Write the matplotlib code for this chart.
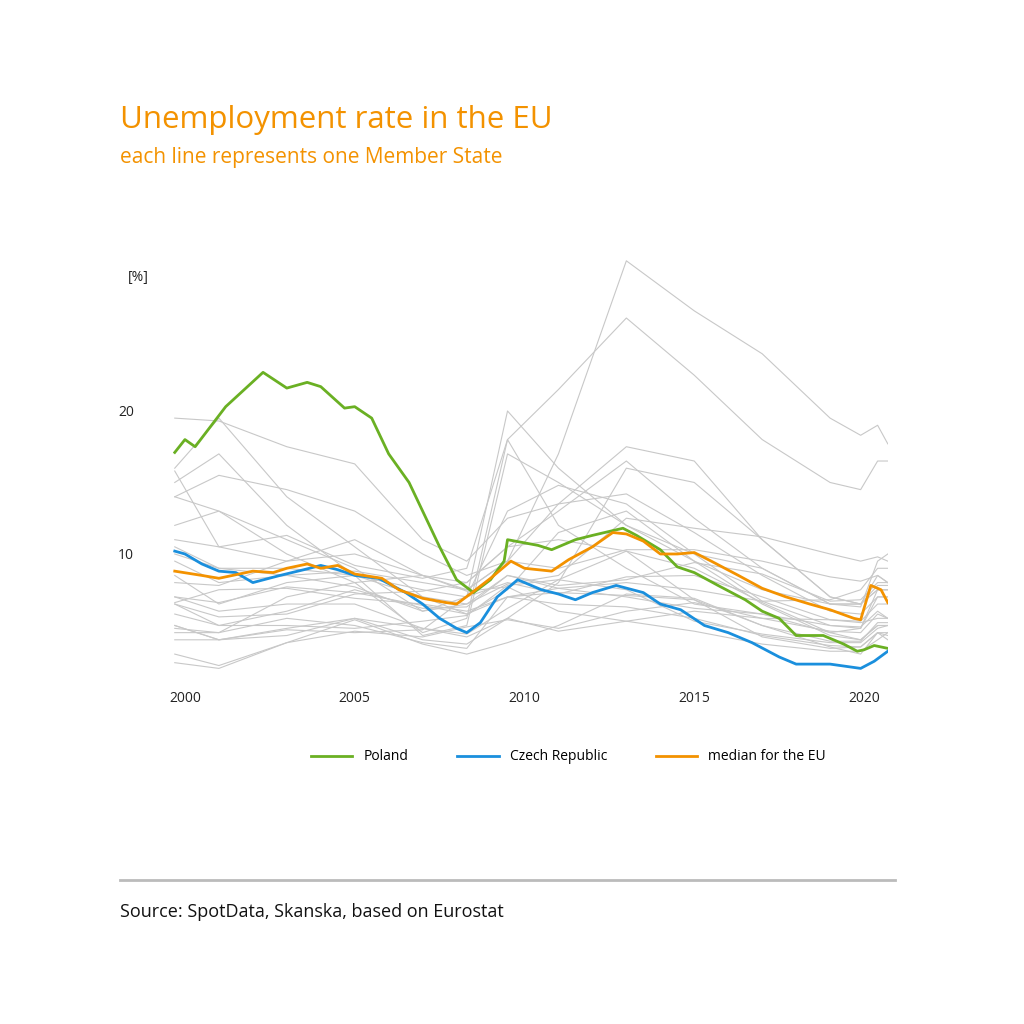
import matplotlib.pyplot as plt

plt.rcParams['font.family'] = ['Open Sans', 'DejaVu Sans']

ORANGE = '#f39200'
GREEN = '#6ab023'
BLUE = '#1a8fdd'
GREY = '#c8c8c8'

# other member states, sampled at shared years
grey_years = [1999.7, 2001, 2003, 2005, 2007, 2008.3, 2009.5, 2011, 2013, 2015, 2017, 2019, 2019.9, 2020.4, 2020.7]
grey_values = [
    [11, 10.5, 9.5, 10, 8.5, 7.5, 9.5, 17, 30.5, 27, 24, 19.5, 18.3, 19, 17.7],
    [15.8, 10.5, 11.3, 9.2, 8.3, 9, 18, 21.5, 26.5, 22.5, 18, 15, 14.5, 16.5, 16.5],
    [19.5, 19.3, 17.5, 16.3, 11, 9.5, 12.5, 13.5, 14.2, 11.5, 8.5, 6, 5.8, 7, 7],
    [14, 13, 11, 9, 6, 7, 20, 16, 12, 10, 9, 6.5, 6.5, 8.5, 8],
    [15, 17, 12, 8.5, 4.3, 5, 17, 15, 12, 9.5, 7.5, 6.5, 6.3, 9.5, 10],
    [12, 13, 10, 8, 4.5, 5.5, 18, 12, 9, 6.5, 5.8, 4.5, 4.8, 7.5, 7.5],
    [16, 19.5, 14, 10.5, 7, 5.8, 7.5, 11.5, 13, 9.5, 6.5, 4.3, 4, 5, 5],
    [14, 15.5, 14.5, 13, 10, 8.5, 9.5, 13.5, 17.5, 16.5, 11, 7, 6.5, 7.5, 7.5],
    [10.5, 9, 8.5, 7.7, 6, 6.5, 7.9, 8.5, 12.5, 11.8, 11.2, 10, 9.5, 9.8, 9.5],
    [9.5, 8, 8.5, 8.8, 8, 7.5, 9.5, 9, 10.3, 10.3, 9.5, 8.4, 8.1, 8.5, 8],
    [10, 9, 9, 8.5, 7, 6.5, 8.5, 7.8, 8.2, 9.4, 8.6, 6.7, 6.8, 8, 8],
    [4.5, 4.5, 7, 8, 8.5, 8, 10.5, 13, 16.5, 12.5, 9, 6.5, 6.5, 7.5, 7.5],
    [5, 4, 4.7, 4.5, 4.7, 7, 13, 14.8, 13.5, 10, 6.7, 5, 4.8, 7, 7],
    [5, 4, 4.3, 5.5, 4, 3.7, 5.5, 8, 16, 15, 11, 7, 6.5, 7.8, 7.8],
    [6.5, 5, 6, 7.5, 6.2, 6.3, 8.5, 7.6, 8, 7.5, 6.7, 6.8, 7.5, 9, 9],
    [8, 7.8, 9.5, 11, 8.5, 7.4, 7.7, 6, 5.3, 4.6, 3.7, 3.2, 3.2, 4, 4.5],
    [3, 2.2, 3.8, 5.4, 3.7, 3, 3.8, 5, 7.2, 6.9, 5, 3.5, 3, 4.5, 4],
    [4, 4, 4.8, 5.5, 4.8, 4.2, 5.5, 4.6, 5.3, 6, 5.5, 4.6, 4.5, 5.8, 5.5],
    [6.5, 5.6, 5.8, 7.2, 7.4, 8, 10.5, 11, 10.2, 6.8, 4.2, 3.4, 3.5, 4.5, 4.3],
    [7, 6, 6.5, 6.5, 4.8, 4.4, 6.2, 8.2, 10.2, 9, 6.6, 4.5, 4, 5, 5],
    [8.5, 6.5, 8, 8.5, 7.5, 7, 8, 7.2, 8.4, 8.5, 7, 5.4, 5.2, 5.5, 5.5],
    [4.8, 4.5, 5.5, 5, 3.8, 3.4, 7, 7.6, 7, 6.2, 5.8, 5, 4.9, 6, 5.5],
    [2.4, 2, 3.8, 4.6, 4.2, 4.9, 5.4, 4.8, 6, 6.6, 5.5, 5.4, 5.3, 6.5, 6.5],
    [6.6, 7.5, 7.6, 6.9, 6.5, 6, 7, 6.5, 6.3, 5.5, 4.3, 3.6, 3.5, 4.5, 4.5],
    [7, 6.6, 7.7, 7.3, 6.4, 5.8, 7, 7.3, 7.1, 6.8, 5, 3.9, 3.9, 5.2, 5.2],
    [5.8, 5, 5, 4.8, 5.3, 5.7, 7.8, 8.2, 7.5, 5.3, 4.4, 3.8, 3.8, 4.8, 5],
]

poland_years = [1999.7, 2000, 2000.3, 2001.2, 2002.3, 2003, 2003.6, 2004, 2004.7, 2005, 2005.5, 2006,
                2006.6, 2007.2, 2007.5, 2008, 2008.5, 2009, 2009.4, 2009.5, 2010.4, 2010.8, 2011.5, 2012,
                2012.9, 2013.3, 2014, 2014.5, 2015, 2015.7, 2016.5, 2017, 2017.5, 2018, 2018.8, 2019.4,
                2019.8, 2020, 2020.3, 2020.7]
poland = [17.1, 18, 17.5, 20.3, 22.7, 21.6, 22, 21.7, 20.2, 20.3, 19.5, 17, 15, 12, 10.5, 8.2, 7.3, 8.2,
          9.5, 11, 10.6, 10.3, 11, 11.3, 11.8, 11.3, 10.3, 9.1, 8.7, 7.8, 6.8, 6.0, 5.5, 4.3, 4.3, 3.7,
          3.2, 3.3, 3.6, 3.4]

czech_years = [1999.7, 2000, 2000.5, 2001, 2001.5, 2002, 2002.8, 2003.5, 2004, 2004.5, 2005, 2005.7,
               2006.5, 2007, 2007.5, 2008, 2008.3, 2008.7, 2009.2, 2009.8, 2010.5, 2011, 2011.5, 2012,
               2012.7, 2013.5, 2014, 2014.6, 2015.3, 2016, 2016.7, 2017.5, 2018, 2019, 2019.9, 2020.3, 2020.7]
czech = [10.2, 10, 9.3, 8.8, 8.7, 8, 8.5, 8.9, 9.2, 8.9, 8.5, 8.3, 7.3, 6.5, 5.5, 4.8, 4.5, 5.2, 7,
         8.2, 7.5, 7.2, 6.8, 7.3, 7.8, 7.3, 6.5, 6.1, 5, 4.5, 3.8, 2.8, 2.3, 2.3, 2.0, 2.5, 3.2]

median_years = [1999.7, 2000.5, 2001, 2002, 2002.6, 2003, 2003.6, 2004, 2004.5, 2005, 2005.8, 2006.3,
                2007, 2007.7, 2008, 2008.4, 2009, 2009.6, 2010, 2010.8, 2011.3, 2012, 2012.6, 2013,
                2013.5, 2014, 2014.5, 2015, 2015.5, 2016.3, 2017, 2017.7, 2018.4, 2019, 2019.7, 2019.9,
                2020.2, 2020.5, 2020.7]
median = [8.8, 8.5, 8.3, 8.8, 8.7, 9, 9.3, 9, 9.2, 8.6, 8.3, 7.5, 6.9, 6.6, 6.5, 7.2, 8.3, 9.5, 9, 8.8,
          9.6, 10.5, 11.5, 11.4, 10.9, 10, 10, 10.1, 9.5, 8.5, 7.6, 7, 6.5, 6.1, 5.5, 5.4, 7.8, 7.5, 6.6]

fig = plt.figure(figsize=(10.24, 10.24), dpi=100)
ax = fig.add_axes([0.169, 0.3333, 0.698, 0.419])

for vals in grey_values:
    ax.plot(grey_years, vals, color=GREY, lw=0.8)
ax.plot(poland_years, poland, color=GREEN, lw=2.0, label='Poland')
ax.plot(czech_years, czech, color=BLUE, lw=2.0, label='Czech Republic')
ax.plot(median_years, median, color=ORANGE, lw=2.0, label='median for the EU')

ax.set_xlim(1999.65, 2020.7)
ax.set_ylim(1, 31)
ax.set_xticks([2000, 2005, 2010, 2015, 2020])
ax.set_yticks([10, 20])
for s in ax.spines.values():
    s.set_visible(False)
ax.tick_params(length=0, labelsize=10, colors='#222222')
ax.tick_params(axis='x', pad=6)
ax.tick_params(axis='y', pad=28)

fig.text(128 / 1024, 1 - 277 / 1024, '[%]', fontsize=10, va='center', color='#222222')
fig.text(120 / 1024, 1 - 120 / 1024, 'Unemployment rate in the EU', fontsize=22.5, color=ORANGE, va='center')
fig.text(120 / 1024, 1 - 157 / 1024, 'each line represents one Member State', fontsize=15, color=ORANGE, va='center')

fig.legend(loc='center', bbox_to_anchor=(0.555, 1 - 757 / 1024), ncol=3, frameon=False,
           fontsize=10, handlelength=3, columnspacing=3.5)

fig.add_artist(plt.Line2D([120 / 1024, 895 / 1024], [1 - 880 / 1024] * 2, color='#bbbbbb', lw=2))
fig.text(120 / 1024, 1 - 912 / 1024, 'Source: SpotData, Skanska, based on Eurostat', fontsize=13,
         color='#111111', va='center')

fig.savefig('out.png')
